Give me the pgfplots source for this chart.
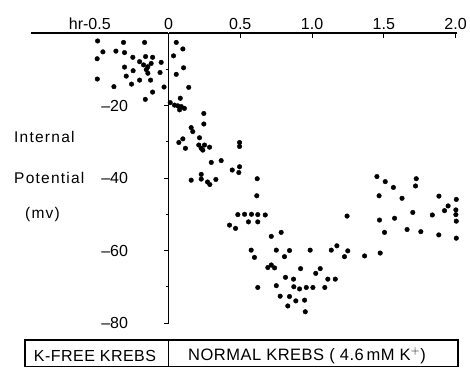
\documentclass[border=0pt]{standalone}
\usepackage{fontspec}
\setmainfont{Liberation Sans}
\newfontfamily\lblfont[LetterSpace=8]{Liberation Sans}
\newfontfamily\boxfont[LetterSpace=3]{Liberation Sans}
\usepackage{pgfplots}
\pgfplotsset{compat=1.18}
\usepackage{pgfplotstable}

\pgfplotstableread{
x y
-0.495 -2.2
-0.314 -2.6
-0.167 -2.6
-0.458 -5.2
-0.367 -5.0
-0.307 -5.4
-0.498 -7.1
-0.249 -6.7
-0.160 -6.5
-0.111 -6.7
-0.051 -8.1
-0.202 -7.9
-0.174 -8.8
-0.144 -9.3
-0.121 -8.4
-0.307 -9.4
-0.247 -10.4
-0.155 -10.1
-0.059 -10.9
-0.295 -11.9
-0.144 -11.1
-0.497 -12.7
-0.202 -13.0
-0.125 -13.0
-0.258 -14.1
-0.381 -14.8
-0.031 -14.9
-0.111 -16.3
-0.162 -18.3
}\kfree

\pgfplotstableread{
x y
0.054 -2.6
0.100 -4.4
0.035 -6.3
0.105 -9.6
0.054 -11.4
0.141 -15.0
0.012 -19.2
0.042 -19.9
0.065 -20.1
0.082 -18.0
0.089 -20.3
0.111 -20.8
0.077 -21.2
0.246 -22.2
0.246 -25.1
0.158 -26.1
0.169 -27.2
0.216 -28.9
0.100 -29.2
0.072 -30.2
0.118 -31.8
0.211 -30.9
0.228 -31.8
0.251 -30.9
0.286 -31.5
0.239 -32.3
0.495 -30.2
0.495 -31.3
0.298 -35.7
0.367 -35.2
0.444 -37.8
0.495 -36.9
0.490 -38.5
0.158 -40.6
0.228 -39.0
0.228 -40.3
0.272 -41.1
0.288 -41.8
0.330 -40.4
0.618 -40.2
0.615 -44.9
0.425 -53.0
0.467 -53.9
0.483 -50.1
0.530 -50.0
0.578 -50.0
0.622 -50.1
0.674 -50.2
0.557 -52.1
0.622 -52.1
0.716 -56.1
0.785 -55.0
0.576 -59.9
0.599 -61.9
0.751 -59.9
0.808 -61.7
0.843 -60.0
0.987 -59.9
1.134 -59.9
1.173 -58.7
1.226 -61.7
1.249 -60.1
1.366 -61.5
1.475 -60.7
1.244 -50.5
0.692 -64.7
0.716 -64.0
0.739 -64.8
0.920 -65.0
1.026 -66.3
1.057 -65.0
0.815 -67.4
0.871 -67.9
1.110 -67.9
1.162 -67.9
0.622 -70.2
0.751 -69.7
0.873 -70.0
0.913 -70.6
0.960 -70.2
1.006 -70.2
1.089 -70.2
0.778 -72.6
0.843 -72.7
0.887 -73.9
0.948 -73.7
0.831 -75.3
0.953 -76.9
1.452 -39.6
1.510 -41.0
1.567 -42.6
1.726 -40.2
1.721 -42.2
1.467 -44.9
1.627 -45.6
1.884 -45.0
2.005 -45.9
1.702 -49.5
1.838 -50.2
1.923 -49.0
1.948 -47.7
2.002 -48.8
2.002 -50.1
2.005 -51.9
1.470 -51.6
1.575 -51.1
1.505 -55.0
1.662 -54.2
1.758 -54.8
1.883 -55.7
2.005 -56.6
}\normal

\begin{document}
\begin{tikzpicture}
\path[use as bounding box] (0pt,0pt) rectangle (470pt,367pt);
\pgfplotsset{common/.style={
  scale only axis, height=290pt, ymin=-80, ymax=0, clip=false,
  axis x line*=top, xtick align=inside,
  /pgf/number format/assume math mode=true,
  tick label style={font=\fontsize{16}{18}\selectfont},
  axis line style={line width=1.3pt},
  every tick/.style={line width=1pt, black},
}}
\begin{axis}[common, at={(31pt,44pt)}, anchor=south west, width=137.5pt,
  xmin=-0.96, xmax=0, axis y line=none, ytick=\empty,
  xtick={-0.5}, xticklabels={\llap{hr}-0.5}, major tick length=0pt]
\addplot[only marks, mark=*, black, mark size=2.3pt] table[x=x,y=y] {\kfree};
\end{axis}
\begin{axis}[common, at={(168.5pt,44pt)}, anchor=south west, width=288.5pt,
  xmin=0, xmax=2.01, axis y line*=left,
  xtick={0,0.5,1,1.5,2}, xticklabels={0,0.5,1.0,1.5,2.0},
  ytick={-80,-60,-40,-20,0}, yticklabels={--80,--60,--40,--20,{}},
  minor ytick={-70,-50,-30,-10}, ytick align=outside,
  major tick length=5pt, minor tick length=3pt,
  yticklabel style={xshift=-32pt}]
\addplot[only marks, mark=*, black, mark size=2.3pt] table[x=x,y=y] {\normal};
\end{axis}
\node[anchor=west, inner sep=0pt, font=\lblfont\fontsize{15.5}{17}\selectfont] at (14pt,230pt) {Internal};
\node[anchor=west, inner sep=0pt, font=\lblfont\fontsize{15.5}{17}\selectfont] at (14pt,189pt) {Potential};
\node[anchor=west, inner sep=0pt, font=\lblfont\fontsize{15.5}{17}\selectfont] at (25pt,153pt) {(mv)};
\draw[line width=1.1pt] (25pt,0.6pt) rectangle (458pt,27pt);
\draw[line width=1.1pt] (168.5pt,0.6pt) -- (168.5pt,27pt);
\node[font=\boxfont\fontsize{16}{18}\selectfont] at (95pt,11pt) {K-FREE KREBS};
\node[font=\boxfont\fontsize{16.5}{18}\selectfont] at (307pt,11pt) {NORMAL KREBS ( 4.6\,mM K$^{+}$)};
\end{tikzpicture}
\end{document}
